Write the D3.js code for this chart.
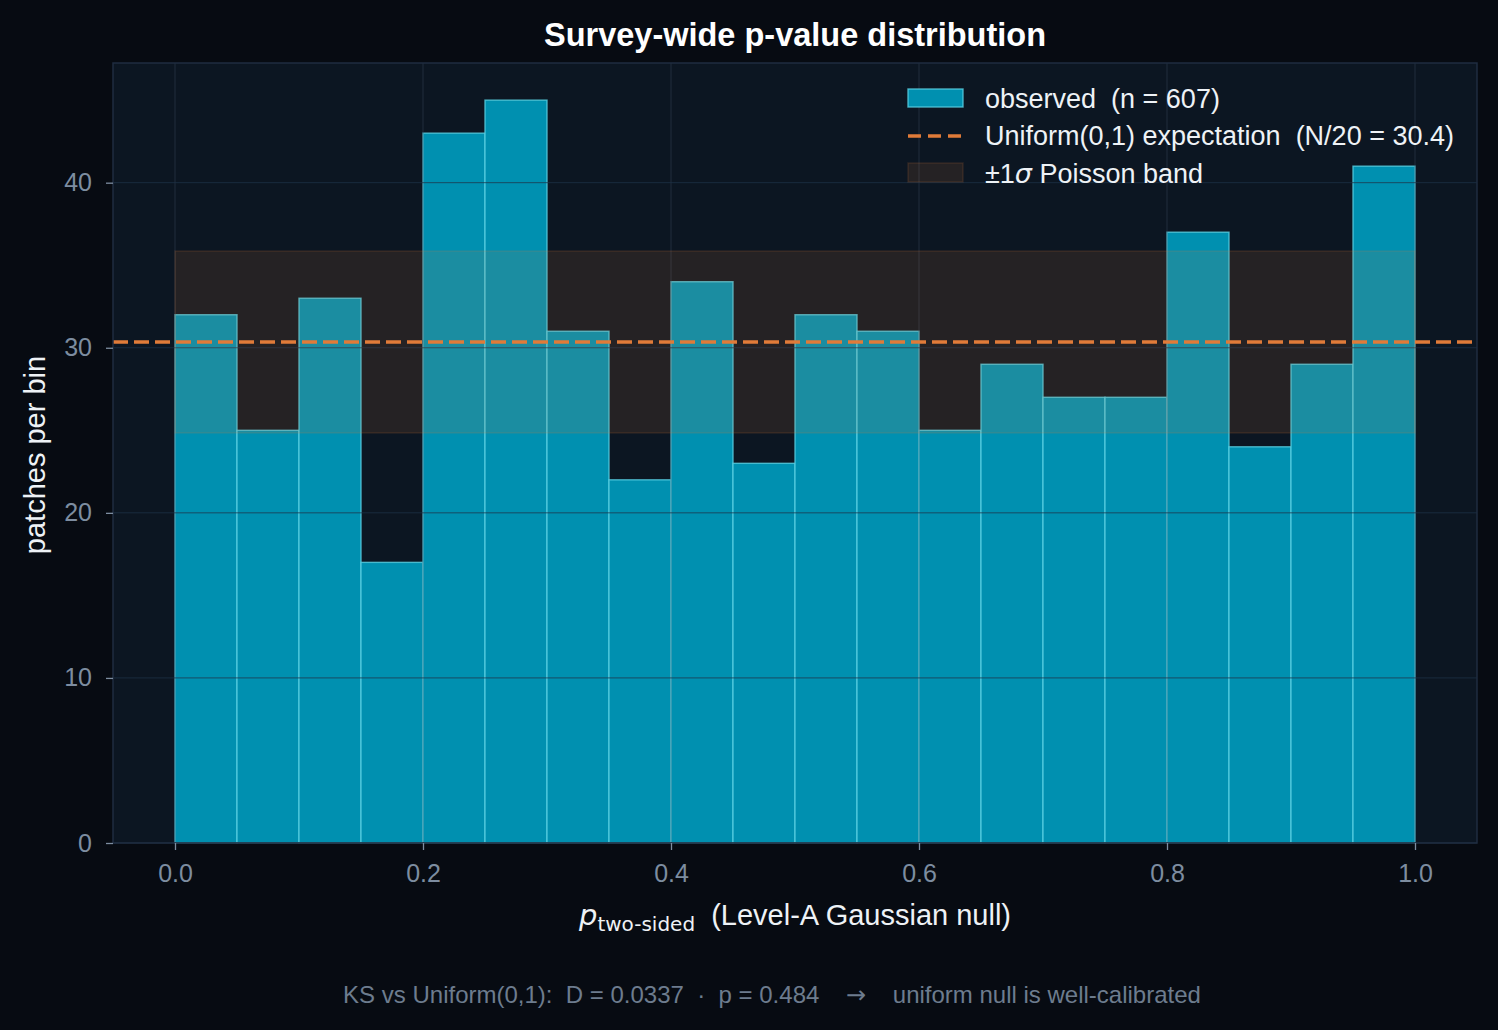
<!DOCTYPE html>
<html>
<head>
<meta charset="utf-8">
<script src="https://cdn.jsdelivr.net/npm/d3@7"></script>
<style>
  html, body { margin: 0; padding: 0; background: #070b12; }
  svg { display: block; font-family: "Liberation Sans", Arial, sans-serif; }
</style>
</head>
<body>
<svg id="histSvg" width="1498" height="1030"></svg>
<script>
// histogram bins (20 bins over [0,1])
const binEdges = d3.range(21).map(i => i / 20);
const counts = [32, 25, 33, 17, 43, 45, 31, 22, 34, 23, 32, 31, 25, 29, 27, 27, 37, 24, 29, 41];
const xTicks = [0.0, 0.2, 0.4, 0.6, 0.8, 1.0];
const yTicks = [0, 10, 20, 30, 40];
const nTotal = 607;
const expected = nTotal / 20;

const svg = d3.select('#histSvg');
const width = 1498, height = 1030;
const margin = { top: 63, bottom: 187, right: 21, left: 113 };
const innerWidth = width - margin.left - margin.right;
const innerHeight = height - margin.top - margin.bottom;

svg.append('rect').attr('width', width).attr('height', height).attr('fill', '#070b12');

const xScale = d3.scaleLinear().domain([-0.05, 1.05]).range([0, innerWidth]);
const yScale = d3.scaleLinear().domain([0, 47.25]).range([innerHeight, 0]);

const g = svg.append('g').attr('transform', `translate(${margin.left},${margin.top})`);

// axes background
g.append('rect').attr('width', innerWidth).attr('height', innerHeight).attr('fill', '#0c1622');

const bins = counts.map((c, i) => ({ x0: binEdges[i], x1: binEdges[i + 1], c }));

g.selectAll('rect.bar')
  .data(bins)
  .enter()
  .append('rect')
  .attr('class', 'bar')
  .attr('x', d => xScale(d.x0))
  .attr('y', d => yScale(d.c))
  .attr('width', d => xScale(d.x1) - xScale(d.x0))
  .attr('height', d => yScale(0) - yScale(d.c))
  .attr('fill', '#0090b0')
  .attr('stroke', '#5acfe2')
  .attr('stroke-opacity', 0.8)
  .attr('stroke-width', 1.4);

// grid (drawn over the bars, faint)
g.append('g').selectAll('line')
  .data(xTicks)
  .enter().append('line')
  .attr('x1', d => xScale(d)).attr('x2', d => xScale(d))
  .attr('y1', 0).attr('y2', innerHeight)
  .attr('stroke', '#3a4a5e').attr('stroke-opacity', 0.45).attr('stroke-width', 1);
g.append('g').selectAll('line')
  .data(yTicks)
  .enter().append('line')
  .attr('x1', 0).attr('x2', innerWidth)
  .attr('y1', d => yScale(d)).attr('y2', d => yScale(d))
  .attr('stroke', '#1e3348').attr('stroke-opacity', 0.75).attr('stroke-width', 1);

// +/- 1 sigma Poisson band
const sigma = Math.sqrt(expected);
g.append('rect')
  .attr('x', xScale(0))
  .attr('y', yScale(expected + sigma))
  .attr('width', xScale(1) - xScale(0))
  .attr('height', yScale(expected - sigma) - yScale(expected + sigma))
  .attr('fill', '#e07b39').attr('fill-opacity', 0.12)
  .attr('stroke', '#e07b39').attr('stroke-opacity', 0.15).attr('stroke-width', 1.5);

// expectation line
g.append('line')
  .attr('x1', 0).attr('x2', innerWidth)
  .attr('y1', yScale(expected)).attr('y2', yScale(expected))
  .attr('stroke', '#e07b39').attr('stroke-width', 3.4)
  .attr('stroke-dasharray', '15,6');

// spines
g.append('rect').attr('width', innerWidth).attr('height', innerHeight)
  .attr('fill', 'none').attr('stroke', '#1f2d40').attr('stroke-width', 1.5);

// axes
const xAxis = d3.axisBottom(xScale).tickValues(xTicks).tickFormat(d3.format('.1f')).tickSize(7).tickPadding(14);
const gx = g.append('g').attr('transform', `translate(0,${innerHeight})`).call(xAxis);
gx.select('.domain').remove();
gx.selectAll('line').attr('stroke', '#7d8da0').attr('stroke-width', 1.3);
gx.selectAll('text').attr('fill', '#7d8da0').style('font-size', '25px').style('font-family', '"Liberation Sans", Arial, sans-serif');

const yAxis = d3.axisLeft(yScale).tickValues(yTicks).tickSize(7).tickPadding(14);
const gy = g.append('g').call(yAxis);
gy.select('.domain').remove();
gy.selectAll('line').attr('stroke', '#7d8da0').attr('stroke-width', 1.3);
gy.selectAll('text').attr('fill', '#7d8da0').style('font-size', '25px').style('font-family', '"Liberation Sans", Arial, sans-serif');

// title
svg.append('text')
  .attr('x', 795).attr('y', 46)
  .attr('text-anchor', 'middle')
  .attr('fill', '#ffffff')
  .style('font-size', '32.5px').style('font-weight', 'bold')
  .text('Survey-wide p-value distribution');

// x label
const xl = svg.append('text')
  .attr('x', 795).attr('y', 925)
  .attr('text-anchor', 'middle')
  .attr('fill', '#eef2f6')
  .style('font-size', '29px');
xl.append('tspan').style('font-style', 'italic').style('font-family', '"DejaVu Sans", sans-serif').text('p');
xl.append('tspan').attr('dy', 6).style('font-size', '20px').style('font-family', '"DejaVu Sans", sans-serif').text('two-sided');
xl.append('tspan').attr('dy', -6).attr('xml:space', 'preserve').text('  (Level-A Gaussian null)');

// y label
svg.append('text')
  .attr('transform', `translate(45,${margin.top + innerHeight / 2 + 2}) rotate(-90)`)
  .attr('text-anchor', 'middle')
  .attr('fill', '#eef2f6')
  .style('font-size', '29px')
  .text('patches per bin');

// footer
const ft = svg.append('text')
  .attr('x', 772).attr('y', 1003)
  .attr('text-anchor', 'middle')
  .attr('fill', '#6d7c8e')
  .style('font-size', '24px')
  .attr('xml:space', 'preserve');
ft.append('tspan').text('KS vs Uniform(0,1):  D = 0.0337  \u00b7  p = 0.484    ');
ft.append('tspan').style('font-family', '"DejaVu Sans", sans-serif').text('\u2192');
ft.append('tspan').text('    uniform null is well-calibrated');

// legend
const legend = svg.append('g').attr('transform', 'translate(908,89)');
legend.append('rect').attr('x', 0).attr('y', 0).attr('width', 55).attr('height', 18)
  .attr('fill', '#0090b0').attr('stroke', '#5acfe2').attr('stroke-opacity', 0.8).attr('stroke-width', 1.4);
legend.append('line').attr('x1', 0).attr('x2', 55).attr('y1', 47).attr('y2', 47)
  .attr('stroke', '#e07b39').attr('stroke-width', 3.4).attr('stroke-dasharray', '13,7');
legend.append('rect').attr('x', 0).attr('y', 74).attr('width', 55).attr('height', 19)
  .attr('fill', '#e07b39').attr('fill-opacity', 0.12)
  .attr('stroke', '#e07b39').attr('stroke-opacity', 0.15).attr('stroke-width', 1.5);

const legendText = (y) => legend.append('text').attr('x', 77).attr('y', y)
  .attr('fill', '#eef2f6').style('font-size', '27px').attr('xml:space', 'preserve');
legendText(19).text('observed  (n = 607)');
legendText(56).text('Uniform(0,1) expectation  (N/20 = 30.4)');
const lt3 = legendText(94);
lt3.append('tspan').text('\u00b11');
lt3.append('tspan').style('font-style', 'italic').style('font-family', '"DejaVu Sans", sans-serif').text('\u03c3');
lt3.append('tspan').text(' Poisson band');
</script>
</body>
</html>
